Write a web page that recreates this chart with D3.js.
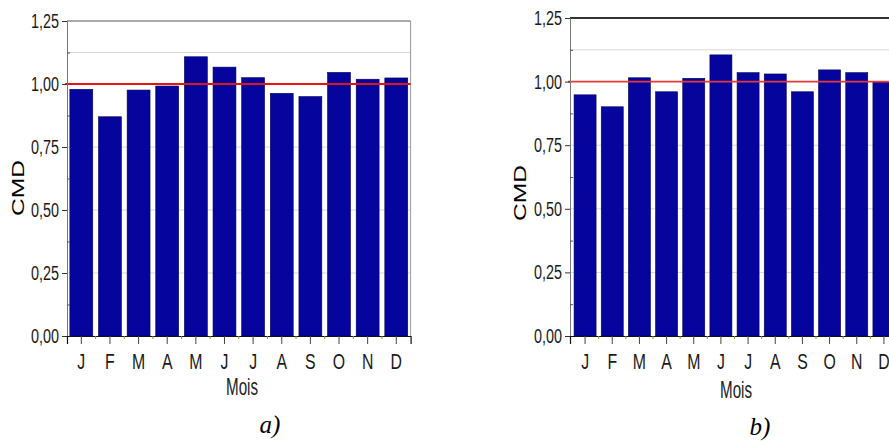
<!DOCTYPE html>
<html>
<head>
<meta charset="utf-8">
<script src="https://cdn.jsdelivr.net/npm/d3@7"></script>
<style>
  body { margin: 0; background: #fff; }
  svg { display: block; }
  .tick text { font-family: "Liberation Sans Narrow", "Arial Narrow", "Liberation Sans", sans-serif; fill: #1a1a1a; }
</style>
</head>
<body>
<svg id="chart"></svg>
<script>
// Data
const months = ["J", "F", "M", "A", "M", "J", "J", "A", "S", "O", "N", "D"];
const cmdA = [0.979, 0.870, 0.976, 0.992, 1.108, 1.067, 1.025, 0.963, 0.950, 1.046, 1.019, 1.024];
const cmdB = [0.948, 0.901, 1.015, 0.960, 1.013, 1.105, 1.035, 1.030, 0.960, 1.046, 1.035, 0.998];
const yTicks = [0, 0.25, 0.5, 0.75, 1.0, 1.25];
const yMinor = [0.125, 0.375, 0.625, 0.875, 1.125];
const gridLevels = [0.25, 0.5, 0.75, 1.125];
const refLine = 1.0;

const width = 889;
const height = 441;

const svg = d3.select("#chart")
  .attr("width", width)
  .attr("height", height);

const fmt = d => d3.format(".2f")(d).replace(".", ",");

function drawPanel(values, opt) {
  const keys = values.map((v, i) => i);
  const x = d3.scaleBand()
    .domain(keys)
    .range([opt.left, opt.right])
    .paddingInner(opt.pi)
    .paddingOuter(opt.po);
  const y = d3.scaleLinear()
    .domain([0, 1.25])
    .range([opt.bottom, opt.top]);

  const g = svg.append("g");

  // light grid
  g.selectAll(".grid")
    .data(gridLevels)
    .enter()
    .append("line")
    .attr("x1", opt.left).attr("x2", opt.right)
    .attr("y1", d => y(d)).attr("y2", d => y(d))
    .attr("stroke", "#d8d8d8")
    .attr("stroke-width", 1);

  // frame (top and right)
  g.append("line")
    .attr("x1", opt.left).attr("x2", opt.right)
    .attr("y1", y(1.25)).attr("y2", y(1.25))
    .attr("stroke", opt.frameColor)
    .attr("stroke-width", opt.frameWidth);
  g.append("line")
    .attr("x1", opt.right).attr("x2", opt.right)
    .attr("y1", y(1.25)).attr("y2", y(0))
    .attr("stroke", "#999")
    .attr("stroke-width", 1);

  // bars
  g.selectAll(".bar")
    .data(values)
    .enter()
    .append("rect")
    .attr("x", (d, i) => x(i))
    .attr("width", x.bandwidth())
    .attr("y", d => y(d))
    .attr("height", d => y(0) - y(d))
    .attr("fill", "#05059e")
    .attr("stroke", "#00005a")
    .attr("stroke-width", 0.6);

  // reference line
  g.append("line")
    .attr("x1", opt.left - 2).attr("x2", opt.right)
    .attr("y1", y(refLine)).attr("y2", y(refLine))
    .attr("stroke", opt.refColor)
    .attr("stroke-width", opt.refWidth);

  // y axis
  const yAxis = g.append("g")
    .attr("transform", `translate(${opt.left},0)`)
    .call(d3.axisLeft(y).tickValues(yTicks).tickFormat(fmt).tickSize(5).tickPadding(3));
  yAxis.select(".domain").attr("stroke", "#777");
  yAxis.selectAll(".tick line").attr("stroke", "#333");
  yAxis.selectAll(".tick text")
    .attr("font-size", 20)
    .attr("textLength", 28)
    .attr("lengthAdjust", "spacingAndGlyphs");

  g.append("g")
    .attr("transform", `translate(${opt.left},0)`)
    .call(d3.axisRight(y).tickValues(yMinor).tickSize(3).tickFormat(""))
    .call(a => a.select(".domain").remove())
    .selectAll("line").attr("stroke", "#555");

  // x axis
  const xAxis = g.append("g")
    .attr("transform", `translate(0,${opt.bottom})`)
    .call(d3.axisBottom(x).tickFormat(i => months[i]).tickSize(8).tickPadding(9));
  xAxis.select(".domain").attr("stroke", "#111").attr("stroke-width", 1.2);
  xAxis.selectAll(".tick line").attr("stroke", "#444");
  xAxis.selectAll(".tick text")
    .attr("font-size", 22)
    .attr("transform", "scale(0.72,1)");

  // small ticks between the bars
  g.selectAll(".sep")
    .data(keys.slice(1))
    .enter()
    .append("line")
    .attr("x1", i => x(i) - x.step() * opt.pi / 2)
    .attr("x2", i => x(i) - x.step() * opt.pi / 2)
    .attr("y1", opt.bottom)
    .attr("y2", opt.bottom + 3)
    .attr("stroke", "#9a8a20")
    .attr("stroke-width", 1);

  // axis titles
  g.append("text")
    .attr("transform", `translate(${opt.yTitleX},${opt.yTitleY}) rotate(-90)`)
    .attr("text-anchor", "middle")
    .attr("dominant-baseline", "central")
    .attr("font-family", "Liberation Sans, Arial, sans-serif")
    .attr("font-size", 17)
    .attr("textLength", 56)
    .attr("lengthAdjust", "spacingAndGlyphs")
    .attr("fill", "#000")
    .text("CMD");

  g.append("text")
    .attr("x", opt.xTitleX)
    .attr("y", opt.xTitleY)
    .attr("text-anchor", "middle")
    .attr("font-family", "Liberation Sans Narrow, Arial Narrow, sans-serif")
    .attr("font-size", 24)
    .attr("textLength", 32)
    .attr("lengthAdjust", "spacingAndGlyphs")
    .attr("fill", "#222")
    .text("Mois");

  g.append("text")
    .attr("x", opt.capX)
    .attr("y", opt.capY)
    .attr("text-anchor", "middle")
    .attr("font-family", "Liberation Serif, Times New Roman, serif")
    .attr("font-style", "italic")
    .attr("font-size", 25)
    .attr("fill", "#000")
    .text(opt.caption);
}

drawPanel(cmdA, {
  left: 67, right: 410.6, top: 21, bottom: 336, pi: 0.2, po: 0.1,
  frameColor: "#555", frameWidth: 1.2, refColor: "#e41414", refWidth: 2,
  yTitleX: 18, yTitleY: 188, xTitleX: 242, xTitleY: 395,
  capX: 270, capY: 433, caption: "a)"
});

drawPanel(cmdB, {
  left: 570, right: 899, top: 18, bottom: 336, pi: 0.19, po: 0.15,
  frameColor: "#333", frameWidth: 1.8, refColor: "#e53a3a", refWidth: 1.6,
  yTitleX: 520, yTitleY: 193, xTitleX: 736, xTitleY: 398,
  capX: 760, capY: 435, caption: "b)"
});
</script>
</body>
</html>
